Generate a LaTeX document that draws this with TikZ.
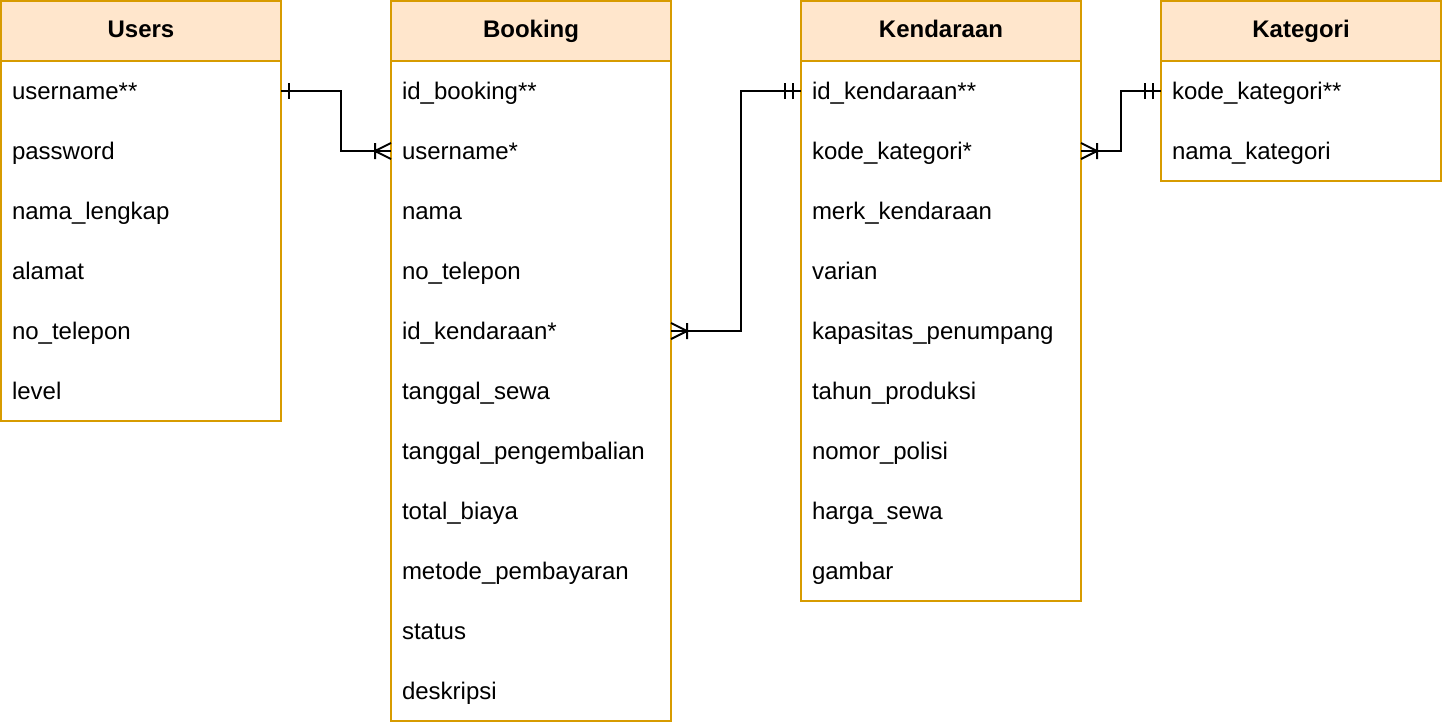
\documentclass[tikz,border=0pt]{standalone}
\usepackage{fontspec}
\setmainfont{Liberation Sans}
\usepackage{xcolor}
\usetikzlibrary{positioning,arrows.meta}
\definecolor{hdrfill}{HTML}{FFE6CC}
\definecolor{hdrline}{HTML}{D79B00}

\pgfdeclarearrow{
	name = ERone,
	setup code = {
		\pgfarrowssettipend{0pt}
		\pgfarrowssetlineend{0pt}
		\pgfarrowssetbackend{-4.5pt}
		\pgfarrowsupperhullpoint{0pt}{4pt}
		\pgfarrowsupperhullpoint{-4.5pt}{4pt}
	},
	drawing code = {
		\pgfpathmoveto{\pgfqpoint{-4pt}{-4pt}}
		\pgfpathlineto{\pgfqpoint{-4pt}{4pt}}
		\pgfusepathqstroke
	}
}
\pgfdeclarearrow{
	name = ERmandOne,
	setup code = {
		\pgfarrowssettipend{0pt}
		\pgfarrowssetlineend{0pt}
		\pgfarrowssetbackend{-8.5pt}
		\pgfarrowsupperhullpoint{0pt}{4pt}
		\pgfarrowsupperhullpoint{-8.5pt}{4pt}
	},
	drawing code = {
		\pgfpathmoveto{\pgfqpoint{-4pt}{-4pt}}
		\pgfpathlineto{\pgfqpoint{-4pt}{4pt}}
		\pgfpathmoveto{\pgfqpoint{-8pt}{-4pt}}
		\pgfpathlineto{\pgfqpoint{-8pt}{4pt}}
		\pgfusepathqstroke
	}
}
\pgfdeclarearrow{
	name = ERoneToMany,
	setup code = {
		\pgfarrowssettipend{0pt}
		\pgfarrowssetlineend{0pt}
		\pgfarrowssetbackend{-8.5pt}
		\pgfarrowsupperhullpoint{0pt}{4pt}
		\pgfarrowsupperhullpoint{-8.5pt}{4pt}
	},
	drawing code = {
		\pgfpathmoveto{\pgfqpoint{0pt}{4pt}}
		\pgfpathlineto{\pgfqpoint{-8pt}{0pt}}
		\pgfpathlineto{\pgfqpoint{0pt}{-4pt}}
		\pgfpathmoveto{\pgfqpoint{-8pt}{-4pt}}
		\pgfpathlineto{\pgfqpoint{-8pt}{4pt}}
		\pgfusepathqstroke
	}
}

\begin{document}
\begin{tikzpicture}[x=0.5pt, y=-0.5pt, font=\fontsize{12}{14}\selectfont]

\tikzstyle{tblhead} = [draw=hdrline, fill=hdrfill, line width=1pt, minimum width=140pt, minimum height=30pt, inner sep=0pt, outer sep=0pt, font=\fontsize{12}{14}\selectfont\bfseries, text height=8.6pt, text depth=2.3pt]
\tikzstyle{tblrow} = [minimum height=30pt, text width=129pt, inner xsep=5.5pt, inner ysep=0pt, outer sep=0pt, align=left, text height=10pt, text depth=2pt]
\tikzstyle{tblbox} = [draw=hdrline, line width=1pt]
\tikzstyle{relline} = [line width=1pt, black]

\useasboundingbox (0,0) rectangle (1442,724);

\node[tblhead, anchor=north west] (users) at (1,1) {Users};
\node[tblrow, below=0pt of users] (u1) {username**};
\node[tblrow, below=0pt of u1] (u2) {password};
\node[tblrow, below=0pt of u2] (u3) {nama\_lengkap};
\node[tblrow, below=0pt of u3] (u4) {alamat};
\node[tblrow, below=0pt of u4] (u5) {no\_telepon};
\node[tblrow, below=0pt of u5] (u6) {level};
\draw[tblbox] (users.north west) rectangle (u6.south east);

\node[tblhead, right=55pt of users] (booking) {Booking};
\node[tblrow, below=0pt of booking] (b1) {id\_booking**};
\node[tblrow, below=0pt of b1] (b2) {username*};
\node[tblrow, below=0pt of b2] (b3) {nama};
\node[tblrow, below=0pt of b3] (b4) {no\_telepon};
\node[tblrow, below=0pt of b4] (b5) {id\_kendaraan*};
\node[tblrow, below=0pt of b5] (b6) {tanggal\_sewa};
\node[tblrow, below=0pt of b6] (b7) {tanggal\_pengembalian};
\node[tblrow, below=0pt of b7] (b8) {total\_biaya};
\node[tblrow, below=0pt of b8] (b9) {metode\_pembayaran};
\node[tblrow, below=0pt of b9] (b10) {status};
\node[tblrow, below=0pt of b10] (b11) {deskripsi};
\draw[tblbox] (booking.north west) rectangle (b11.south east);

\node[tblhead, right=65pt of booking] (kend) {Kendaraan};
\node[tblrow, below=0pt of kend] (k1) {id\_kendaraan**};
\node[tblrow, below=0pt of k1] (k2) {kode\_kategori*};
\node[tblrow, below=0pt of k2] (k3) {merk\_kendaraan};
\node[tblrow, below=0pt of k3] (k4) {varian};
\node[tblrow, below=0pt of k4] (k5) {kapasitas\_penumpang};
\node[tblrow, below=0pt of k5] (k6) {tahun\_produksi};
\node[tblrow, below=0pt of k6] (k7) {nomor\_polisi};
\node[tblrow, below=0pt of k7] (k8) {harga\_sewa};
\node[tblrow, below=0pt of k8] (k9) {gambar};
\draw[tblbox] (kend.north west) rectangle (k9.south east);

\node[tblhead, right=40pt of kend] (kat) {Kategori};
\node[tblrow, below=0pt of kat] (c1) {kode\_kategori**};
\node[tblrow, below=0pt of c1] (c2) {nama\_kategori};
\draw[tblbox] (kat.north west) rectangle (c2.south east);

\draw[relline, {ERone}-{ERoneToMany}] (u1.east) -- ++(60,0) |- (b2.west);
\draw[relline, {ERoneToMany}-{ERmandOne}] (b5.east) -- ++(70,0) |- (k1.west);
\draw[relline, {ERoneToMany}-{ERmandOne}] (k2.east) -- ++(40,0) |- (c1.west);

\end{tikzpicture}
\end{document}
